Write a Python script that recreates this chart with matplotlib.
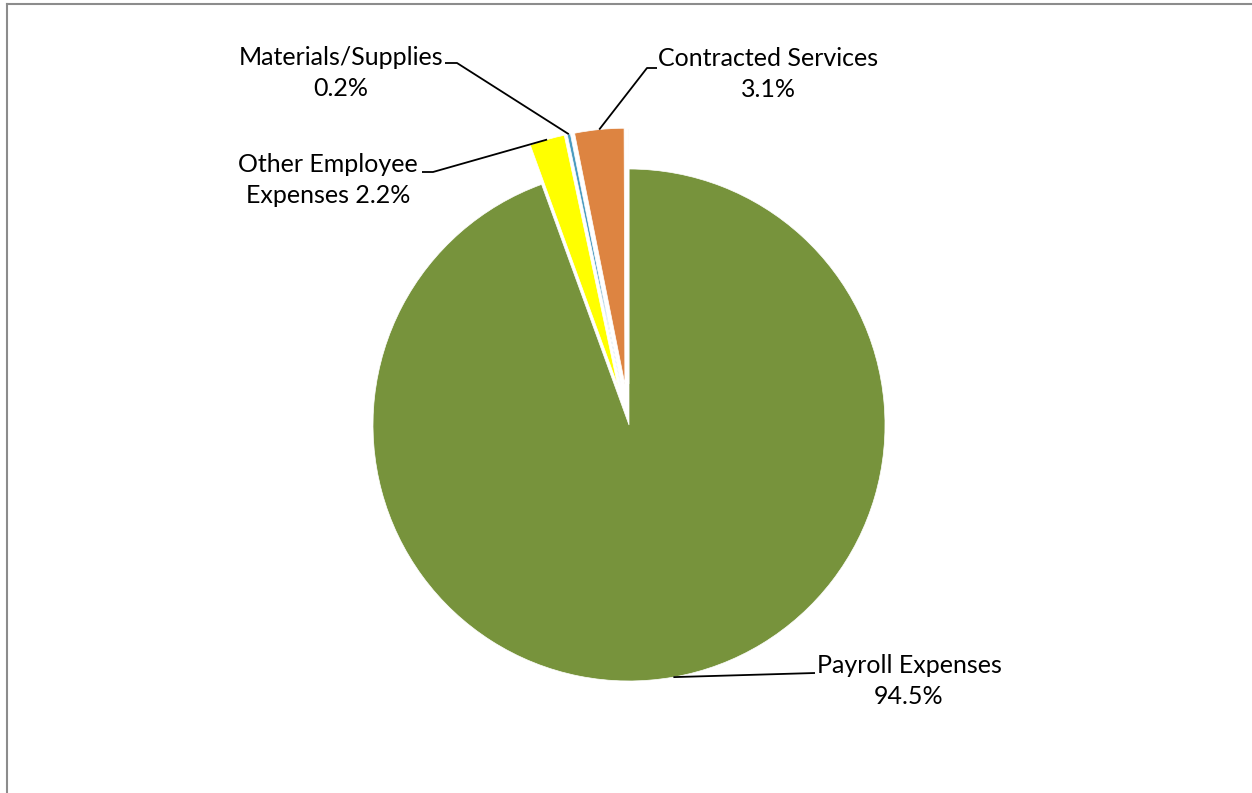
import numpy as np
import matplotlib
matplotlib.use("Agg")
import matplotlib.pyplot as plt
from matplotlib.lines import Line2D

plt.rcParams['font.family'] = ['Lato', 'DejaVu Sans']

# expense breakdown, clockwise from 12 o'clock
categories = ['Payroll Expenses', 'Other Employee Expenses', 'Materials/Supplies',
              'Contracted Services', 'Other']
shares = [94.5, 2.2, 0.2, 3.1, 0.05]
label_text = ['Payroll Expenses\n94.5%', 'Other Employee\nExpenses 2.2%',
              'Materials/Supplies\n0.2%', 'Contracted Services\n3.1%', None]
colors = ['#77933C', '#FFFF00', '#4A9BC0', '#DD8441', '#E4D8CE']
explode = [0.0, 0.16, 0.16, 0.16, 0.16]

W, H = 1252, 793
CX, CY, R = 629, 425, 256   # pie centre and radius in pixels


def px(x, y):
    """pixel position (from top-left) -> data coords of the pie axes"""
    return (x - CX) / R, (CY - y) / R


fig = plt.figure(figsize=(W / 100, H / 100), dpi=100)
ax = fig.add_axes([0, 0, 1, 1])
wedges, _ = ax.pie(shares, colors=colors, explode=explode, startangle=90,
                   counterclock=False, radius=1.0,
                   wedgeprops=dict(edgecolor='white', linewidth=0.5))
ax.set_xlim((0 - CX) / R, (W - CX) / R)
ax.set_ylim((CY - H) / R, CY / R)
ax.set_aspect('auto')
ax.axis('off')

# label text position, elbow of the leader and where the leader ends near the text
label_pos = [(909, 681), (328, 180), (341, 73), (768, 74)]
elbow = [(815, 673), (433, 172), (457, 63), (647, 68)]
line_end = [(815, 673), (422, 172), (445, 63), (657, 68)]

for i, (w, text) in enumerate(zip(wedges, label_text)):
    if text is None:
        continue
    mid = np.deg2rad((w.theta1 + w.theta2) / 2)
    cx, cy = w.center
    ax_pt = (cx + w.r * np.cos(mid), cy + w.r * np.sin(mid))
    ex, ey = px(*elbow[i])
    lx, ly = px(*line_end[i])
    ax.plot([ax_pt[0], ex, lx], [ax_pt[1], ey, ly], color='black', lw=1.3,
            solid_capstyle='butt')
    tx, ty = px(*label_pos[i])
    ax.text(tx, ty, text, ha='center', va='center', fontsize=18,
            linespacing=1.45, color='black')

# chart area border (only top and left edges fall inside the image)
fig.add_artist(Line2D([7 / W, 7 / W], [0, 1 - 4 / H], color='#8C8C8C', lw=1.5))
fig.add_artist(Line2D([7 / W, 1], [1 - 4 / H, 1 - 4 / H], color='#8C8C8C', lw=1.5))

fig.savefig('out.png', dpi=100, facecolor='white')
